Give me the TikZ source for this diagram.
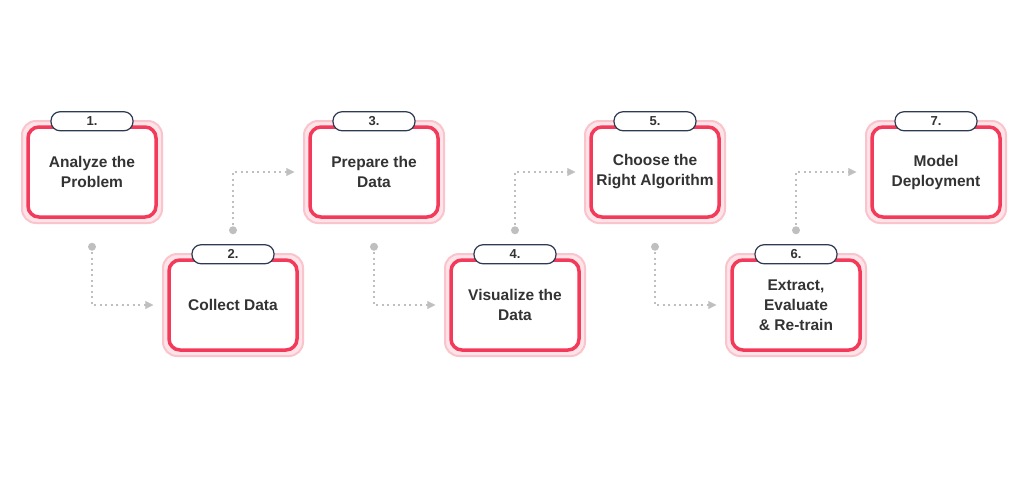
\documentclass[tikz,border=0pt]{standalone}
\usepackage{fontspec}
\setmainfont{Liberation Sans}
\usetikzlibrary{arrows.meta,calc}
\definecolor{boxred}{HTML}{F43A5A}
\definecolor{glow}{HTML}{FBC4CD}
\definecolor{tabline}{HTML}{2E3A52}
\definecolor{txt}{HTML}{333333}
\tikzset{
  stepbox/.style={draw=boxred, line width=3.5pt, rounded corners=11pt, fill=white,
    minimum width=128pt, minimum height=90pt, align=center, text=txt,
    font=\bfseries\fontsize{15.5}{20}\selectfont, inner sep=0pt},
  halo/.style={draw=glow, line width=2pt, rounded corners=14pt, fill=glow!45},
  tab/.style={draw=tabline, line width=1.2pt, rounded corners=9pt, fill=white,
    minimum width=82pt, minimum height=19pt, inner sep=0pt, text=txt,
    font=\bfseries\fontsize{13}{13}\selectfont},
  link/.style={draw=gray!50, line width=2pt, dash pattern=on 2pt off 3.5pt},
  tip/.style={-{Triangle[length=8pt,width=8pt]}, gray!50, line width=0.1pt}
}
\begin{document}
\begin{tikzpicture}[x=1pt,y=-1pt]
\useasboundingbox (0,0) rectangle (1024,487);
\fill[white] (0,0) rectangle (1024,487);
% boxes
\foreach \n/\x/\y/\t in {1/92/172/{Analyze the\\Problem},2/233/305/{Collect Data},
  3/374/172/{Prepare the\\Data},4/515/305/{Visualize the\\Data},
  5/655/172/{Choose the\\Right Algorithm},6/796/305/{Extract,\\Evaluate\\\& Re-train},
  7/936/172/{Model\\Deployment}}{
  \fill[halo] (\x-70,\y-51) rectangle (\x+70,\y+51);
  \node[stepbox] (b\n) at (\x,\y) {\t};
  \node[tab] (t\n) at ([yshift=4pt]b\n.north) {\n.};
}
% connectors going down
\foreach \a/\b in {1/2,3/4,5/6}{
  \coordinate (s\a) at ([yshift=-28pt]b\a.south);
  \coordinate (e\a) at ([xshift=-20pt]b\b.west);
  \fill[gray!50] (s\a) circle (4pt);
  \draw[link] (s\a) |- (e\a);
  \draw[tip] ($(e\a)+(-1,0)$) -- ($(e\a)+(6,0)$);
}
% connectors going up
\foreach \a/\b in {2/3,4/5,6/7}{
  \coordinate (s\a) at ([yshift=28pt]b\a.north);
  \coordinate (e\a) at ([xshift=-20pt]b\b.west);
  \fill[gray!50] (s\a) circle (4pt);
  \draw[link] (s\a) |- (e\a);
  \draw[tip] ($(e\a)+(-1,0)$) -- ($(e\a)+(6,0)$);
}
\end{tikzpicture}
\end{document}
